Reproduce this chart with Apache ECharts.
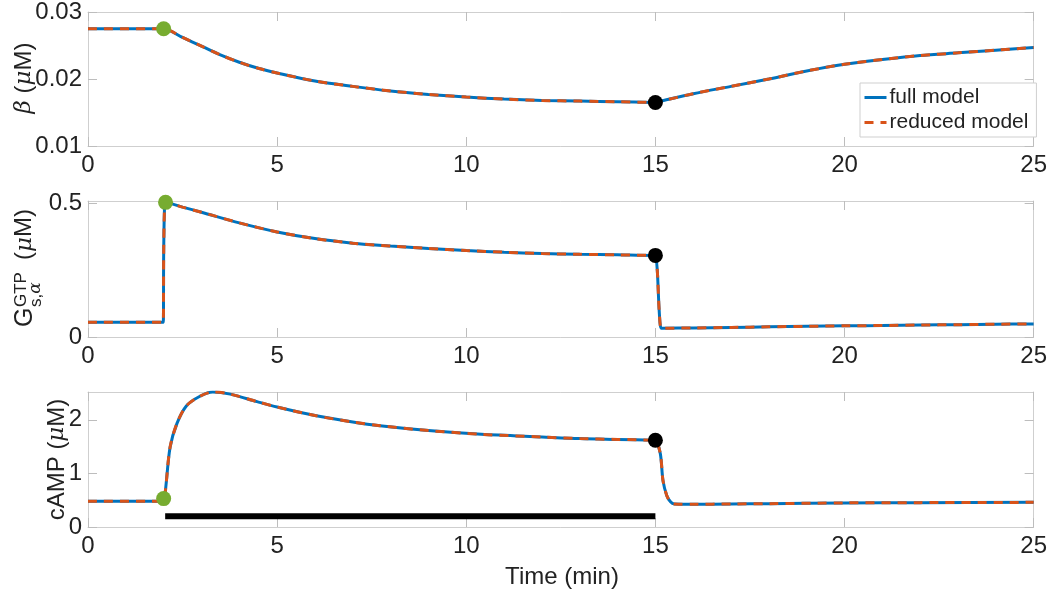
<!DOCTYPE html>
<html>
<head>
<meta charset="utf-8">
<script src="https://cdn.jsdelivr.net/npm/echarts@6/dist/echarts.min.js"></script>
<style>html,body{margin:0;padding:0;background:#fff}#c{width:1050px;height:594px}</style>
</head>
<body>
<div id="c"></div>
<script>
// ---- data ----
const xTicks = [0, 5, 10, 15, 20, 25];
const yTicksBeta = [0.01, 0.02, 0.03];
const yTicksGs = [0, 0.5];
const yTicksCamp = [0, 1, 2];

const tBeta = [0, 1.9, 2, 2.5, 3, 3.5, 4, 4.5, 5, 6, 7, 8, 9, 10, 11, 12, 13, 14, 14.9, 15, 15.1, 16, 17, 18, 19, 20, 21, 22, 23, 24, 25];
const betaVals = [0.0275, 0.0275, 0.0275, 0.0262, 0.0249, 0.0236, 0.0225, 0.0216, 0.0209, 0.0197, 0.0189, 0.0182, 0.0177, 0.0173, 0.0170, 0.0168, 0.0167, 0.0166, 0.01651, 0.0165, 0.01663, 0.0178, 0.0189, 0.0200, 0.0212, 0.0222, 0.0229, 0.0235, 0.0239, 0.0243, 0.0247];

const tGs = [0, 1.95, 1.99, 2.0, 2.02, 2.05, 2.5, 3, 4, 5, 6, 7, 8, 9, 10, 11, 12, 13, 14, 14.95, 15, 15.05, 15.1, 15.15, 15.2, 16, 17, 18, 19, 20, 21, 22, 23, 24, 25];
const gsVals = [0.055, 0.055, 0.055, 0.30, 0.47, 0.505, 0.487, 0.468, 0.428, 0.394, 0.369, 0.352, 0.341, 0.332, 0.324, 0.318, 0.313, 0.310, 0.308, 0.306, 0.306, 0.25, 0.10, 0.033, 0.033, 0.034, 0.036, 0.038, 0.040, 0.042, 0.043, 0.045, 0.046, 0.048, 0.049];

const tCamp = [0, 1.95, 2.0, 2.05, 2.17, 2.35, 2.6, 2.96, 3.3, 3.76, 4.47, 5, 6, 7, 7.72, 9, 10.4, 12, 13, 14, 14.95, 15, 15.13, 15.2, 15.3, 15.4, 15.5, 16, 17, 18, 20, 22, 25];
const campVals = [0.48, 0.48, 0.48, 0.70, 1.49, 1.93, 2.26, 2.44, 2.52, 2.48, 2.34, 2.24, 2.08, 1.96, 1.89, 1.80, 1.73, 1.68, 1.65, 1.635, 1.621, 1.62, 1.37, 0.87, 0.59, 0.47, 0.43, 0.425, 0.43, 0.435, 0.45, 0.455, 0.46];

const startMarks = [[2.0, 0.0275], [2.05, 0.505], [2.0, 0.53]];
const stopMarks = [[15.0, 0.0165], [15.0, 0.306], [15.0, 1.62]];
const stimulusTimes = [2.04, 15.0];
const stimulusLevel = 0.2;

const seriesNames = ['full model', 'reduced model'];

// ---- styles ----
const FONT = "'Liberation Sans', Arial, Helvetica, sans-serif";
const AX = '#cfcfcf';
const BLUE = '#0072BD', ORANGE = '#D95319', GREEN = '#77AC30';

const grids = [
  {left: 88, top: 10, width: 949, height: 136},
  {left: 88, top: 201, width: 949, height: 136},
  {left: 88, top: 392, width: 949, height: 135}
];
const yRanges = [[0.01, 0.03, yTicksBeta], [0, 0.51, yTicksGs], [0, 2.52, yTicksCamp]];

const xAxes = [], yAxes = [];
grids.forEach((g, i) => {
  ['bottom', 'top'].forEach(pos => {
    xAxes.push({
      type: 'value', gridIndex: i, position: pos, min: 0, max: 25,
      axisLine: {show: true, onZero: false, lineStyle: {color: AX, width: 1}},
      axisTick: {show: true, inside: true, length: 9, customValues: xTicks, lineStyle: {color: '#bdbdbd'}},
      axisLabel: {show: pos === 'bottom', customValues: xTicks, margin: 7, fontSize: 24, color: '#222', fontFamily: FONT},
      splitLine: {show: false}
    });
  });
  ['left', 'right'].forEach(pos => {
    const r = yRanges[i];
    yAxes.push({
      type: 'value', gridIndex: i, position: pos, min: r[0], max: r[1],
      axisLine: {show: true, onZero: false, lineStyle: {color: AX, width: 1}},
      axisTick: {show: true, inside: true, length: 9, customValues: r[2], lineStyle: {color: '#bdbdbd'}},
      axisLabel: {show: pos === 'left', customValues: r[2], margin: 6, fontSize: 24, color: '#222', fontFamily: FONT,
        formatter: v => String(+v.toFixed(4))},
      splitLine: {show: false}
    });
  });
});

const panels = [[tBeta, betaVals], [tGs, gsVals], [tCamp, campVals]];
const series = [];
panels.forEach((p, i) => {
  const d = p[0].map((t, k) => [t, p[1][k]]);
  series.push({
    name: seriesNames[0], type: 'line', xAxisIndex: 2 * i, yAxisIndex: 2 * i, data: d,
    smooth: 0.3,
    symbol: 'none', lineStyle: {color: BLUE, width: 3}, itemStyle: {color: BLUE}, z: 2
  });
  series.push({
    name: seriesNames[1], type: 'line', xAxisIndex: 2 * i, yAxisIndex: 2 * i, data: d,
    smooth: 0.3,
    symbol: 'none', lineStyle: {color: ORANGE, width: 3, type: [9, 7]}, itemStyle: {color: ORANGE}, z: 3
  });
  series.push({
    type: 'scatter', xAxisIndex: 2 * i, yAxisIndex: 2 * i, data: [startMarks[i]],
    symbolSize: 15, itemStyle: {color: GREEN, opacity: 1}, z: 5, silent: true
  });
  series.push({
    type: 'scatter', xAxisIndex: 2 * i, yAxisIndex: 2 * i, data: [stopMarks[i]],
    symbolSize: 15, itemStyle: {color: '#000', opacity: 1}, z: 5, silent: true
  });
});
series.push({
  type: 'line', xAxisIndex: 4, yAxisIndex: 4,
  data: stimulusTimes.map(t => [t, stimulusLevel]),
  symbol: 'none', lineStyle: {color: '#000', width: 6, cap: 'butt'}, z: 4, silent: true
});

const rich = {
  i: {fontFamily: "'DejaVu Serif', 'Liberation Serif', serif", fontStyle: 'italic', fontSize: 23, color: '#222'}
};

const graphics = [
  {type: 'text', x: 24, y: 78, rotation: Math.PI / 2,
   style: {text: '{i|β} ({i|μ}M)', font: "24px " + FONT, fill: '#222', align: 'center', verticalAlign: 'middle', rich: rich}},
  {type: 'text', x: 57, y: 459.5, rotation: Math.PI / 2,
   style: {text: 'cAMP ({i|μ}M)', font: "24px " + FONT, fill: '#222', align: 'center', verticalAlign: 'middle', rich: rich}},
  {type: 'group', x: 33, y: 327, rotation: Math.PI / 2, children: [
    {type: 'text', x: 0, y: -8.3, style: {text: 'G', font: "25px " + FONT, fill: '#222', align: 'left', verticalAlign: 'middle'}},
    {type: 'text', x: 20, y: -11.5, style: {text: 'GTP', font: "17px " + FONT, fill: '#222', align: 'left', verticalAlign: 'middle'}},
    {type: 'text', x: 20, y: 3, style: {text: 's,{a|α}', font: "17px " + FONT, fill: '#222', align: 'left', verticalAlign: 'middle',
      rich: {a: {fontFamily: "'DejaVu Serif', serif", fontStyle: 'italic', fontSize: 17, color: '#222'}}}},
    {type: 'text', x: 67, y: -8.3, style: {text: '({i|μ}M)', font: "24px " + FONT, fill: '#222', align: 'left', verticalAlign: 'middle', rich: rich}}
  ]},
  {type: 'text', x: 562, y: 577,
   style: {text: 'Time (min)', font: "24px " + FONT, fill: '#222', align: 'center', verticalAlign: 'middle'}}
];

const chart = echarts.init(document.getElementById('c'), null, {renderer: 'canvas'});
chart.setOption({
  animation: false,
  backgroundColor: '#fff',
  grid: grids,
  xAxis: xAxes,
  yAxis: yAxes,
  legend: {
    data: seriesNames, orient: 'vertical', left: 860, top: 83,
    backgroundColor: '#fff', borderColor: '#cfcfcf', borderWidth: 1,
    padding: [4, 8, 4, 3], itemWidth: 22, itemHeight: 12, itemGap: 4,
    itemStyle: {opacity: 0},
    lineStyle: {width: 3},
    textStyle: {fontSize: 21, color: '#222', fontFamily: FONT, padding: [0, 0, 0, -2]},
    selectedMode: false
  },
  series: series,
  graphic: graphics
});
</script>
</body>
</html>
